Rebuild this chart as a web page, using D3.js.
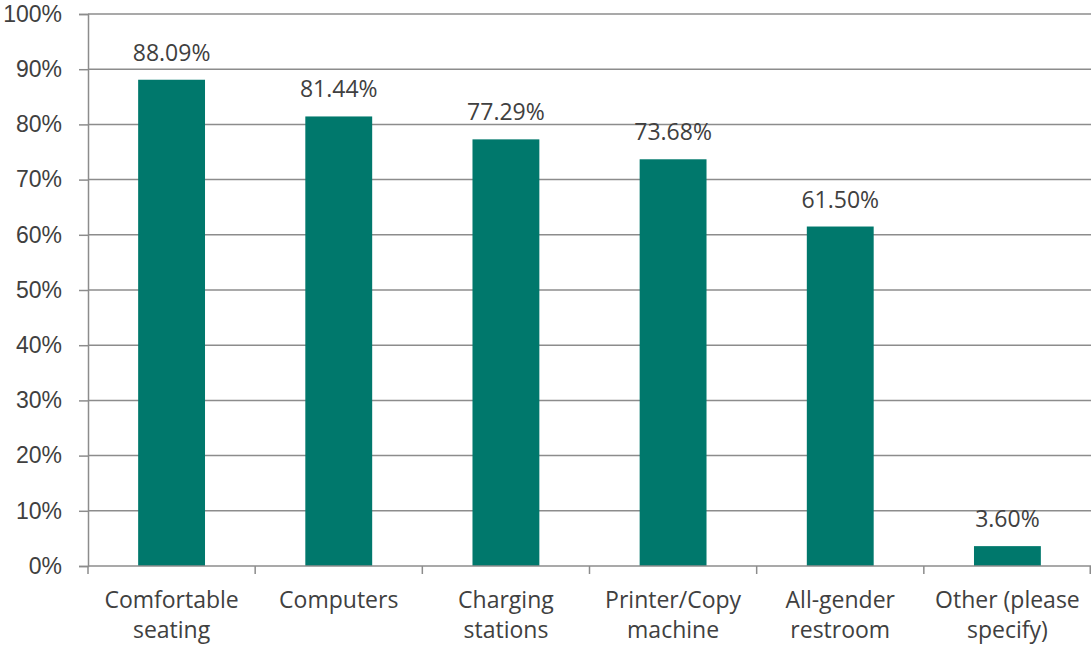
<!DOCTYPE html>
<html>
<head>
<meta charset="utf-8">
<script src="https://cdn.jsdelivr.net/npm/d3@7"></script>
<style>
  body { margin: 0; background: #fff; }
  svg { display: block; font-family: "Open Sans", sans-serif; }
</style>
</head>
<body>
<div id="chart"></div>
<script>
// data
var categories = [
  ["Comfortable", "seating"],
  ["Computers"],
  ["Charging", "stations"],
  ["Printer/Copy", "machine"],
  ["All-gender", "restroom"],
  ["Other (please", "specify)"]
];
var values = [88.09, 81.44, 77.29, 73.68, 61.50, 3.60];
var yTicks = [0, 10, 20, 30, 40, 50, 60, 70, 80, 90, 100];

var margin = { top: 14, right: 1, bottom: 79, left: 88 },
  width = 1092 - margin.left - margin.right,
  height = 645 - margin.top - margin.bottom;

var svg = d3.select("#chart")
  .append("svg")
  .attr("width", 1092)
  .attr("height", 645)
  .append("g")
  .attr("transform", "translate(" + margin.left + "," + margin.top + ")");

var keys = categories.map(function (d) { return d.join(" "); });

var x = d3.scaleBand()
  .domain(keys)
  .range([0, width])
  .paddingInner(0.6)
  .paddingOuter(0.3);

var y = d3.scaleLinear()
  .domain([0, 100])
  .range([height, 0]);

var grey = "#8c8c8c";
var textCol = "#404040";
var fs = "23px";

// gridlines + y axis
var yAxis = svg.append("g")
  .call(d3.axisLeft(y).tickValues(yTicks).tickSize(9).tickFormat(function (d) { return d + "%"; }));
yAxis.select(".domain").attr("stroke", grey).attr("stroke-width", 1.5);
yAxis.selectAll(".tick line").attr("stroke", grey).attr("stroke-width", 1.5);
yAxis.selectAll(".tick text")
  .attr("x", -26)
  .attr("fill", textCol)
  .style("font-size", fs);

svg.append("g")
  .selectAll("line")
  .data(yTicks.filter(function (d) { return d > 0; }))
  .enter().append("line")
  .attr("x1", 0)
  .attr("x2", width)
  .attr("y1", function (d) { return y(d); })
  .attr("y2", function (d) { return y(d); })
  .attr("stroke", grey)
  .attr("stroke-width", 1.5);

// bars
svg.append("g")
  .selectAll("rect")
  .data(values)
  .enter().append("rect")
  .attr("x", function (d, i) { return x(keys[i]); })
  .attr("y", function (d) { return y(d); })
  .attr("width", x.bandwidth())
  .attr("height", function (d) { return height - y(d); })
  .attr("fill", "#00786c");

// value labels
svg.append("g")
  .selectAll("text")
  .data(values)
  .enter().append("text")
  .attr("x", function (d, i) { return x(keys[i]) + x.bandwidth() / 2; })
  .attr("y", function (d) { return y(d) - 19; })
  .attr("text-anchor", "middle")
  .attr("fill", textCol)
  .style("font-size", fs)
  .text(function (d) { return d.toFixed(2) + "%"; });

// x axis with ticks between categories
var step = width / categories.length;
var xAxis = svg.append("g").attr("transform", "translate(0," + height + ")");
xAxis.append("line")
  .attr("x1", 0).attr("x2", width)
  .attr("stroke", grey).attr("stroke-width", 1.5);
xAxis.selectAll(".sep")
  .data(d3.range(categories.length + 1))
  .enter().append("line")
  .attr("class", "sep")
  .attr("x1", function (d) { return Math.min(d * step, width - 0.75); })
  .attr("x2", function (d) { return Math.min(d * step, width - 0.75); })
  .attr("y1", 0).attr("y2", 8)
  .attr("stroke", grey).attr("stroke-width", 1.5);

var lbl = xAxis.selectAll(".lbl")
  .data(categories)
  .enter().append("text")
  .attr("class", "lbl")
  .attr("text-anchor", "middle")
  .attr("fill", textCol)
  .style("font-size", fs)
  .attr("transform", function (d, i) { return "translate(" + (x(keys[i]) + x.bandwidth() / 2) + ",0)"; });
lbl.selectAll("tspan")
  .data(function (d) { return d; })
  .enter().append("tspan")
  .attr("x", 0)
  .attr("y", function (d, i) { return 42 + i * 30; })
  .text(function (d) { return d; });
</script>
</body>
</html>
